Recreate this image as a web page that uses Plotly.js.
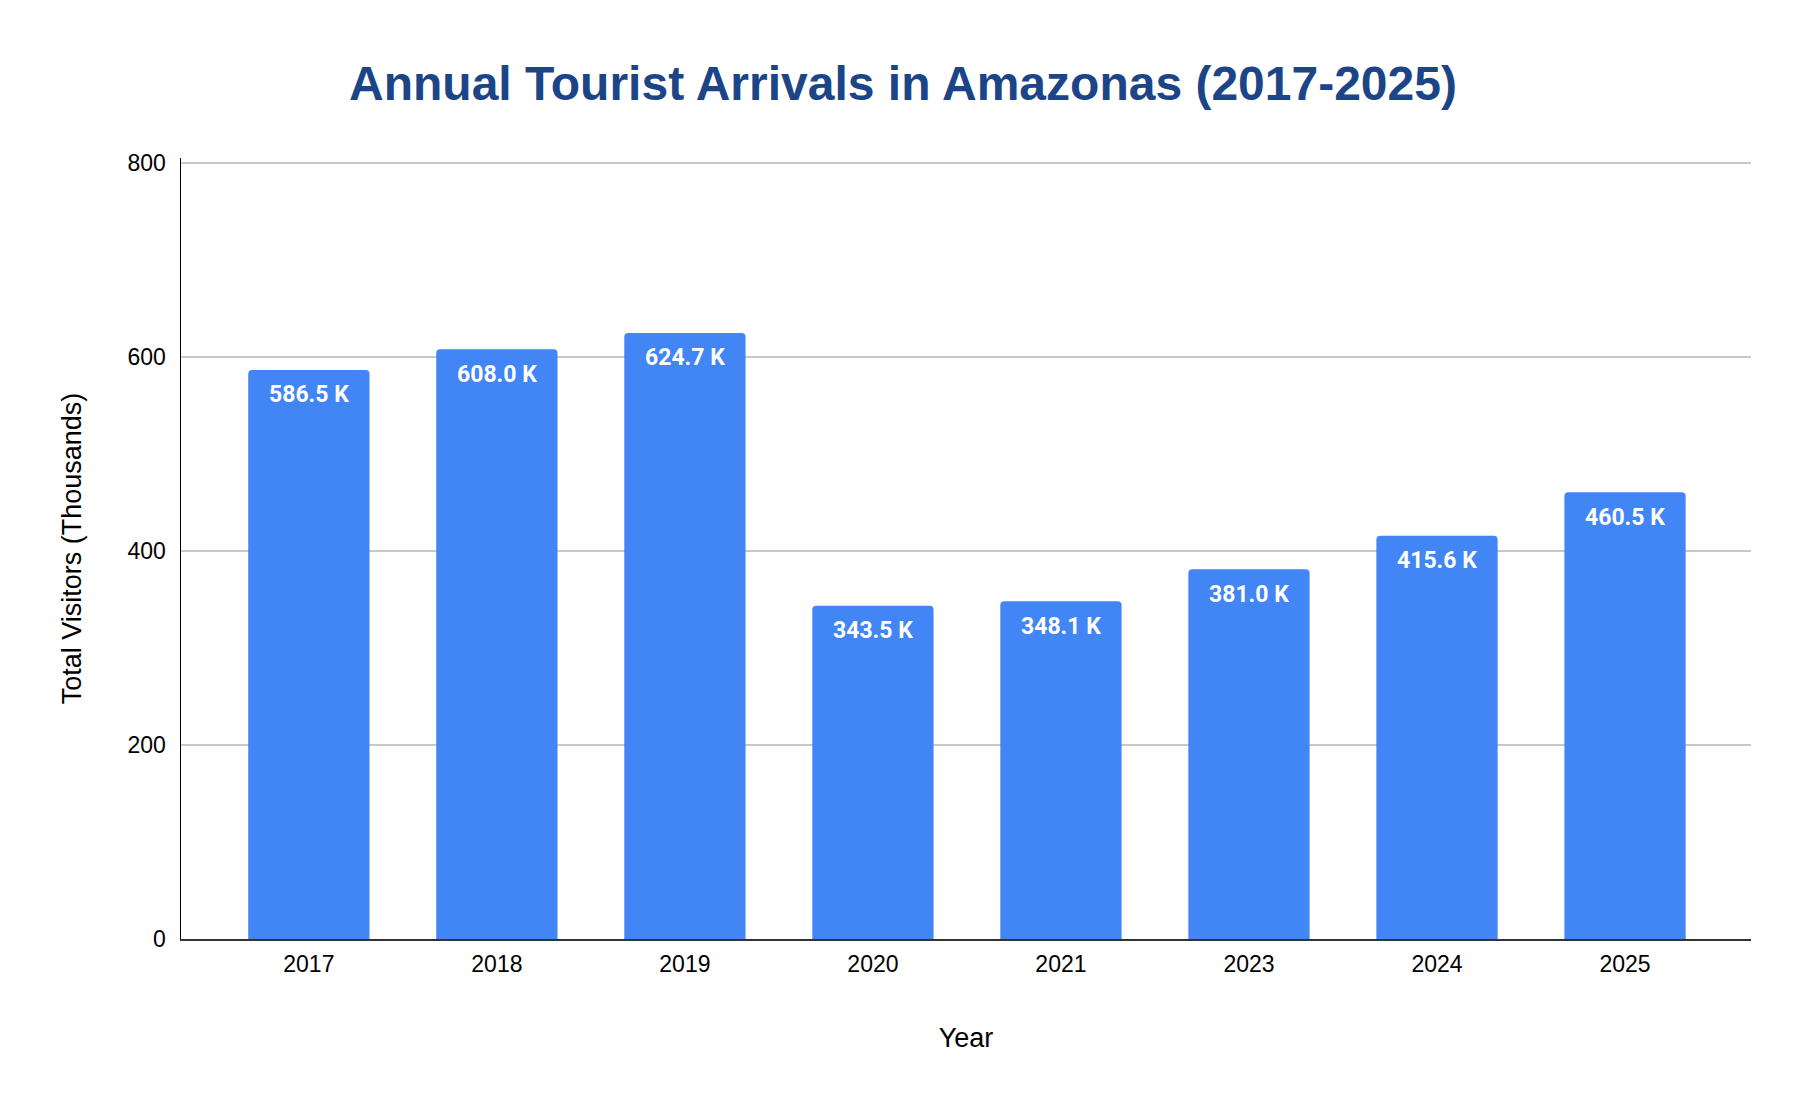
<!DOCTYPE html>
<html>
<head>
<meta charset="utf-8">
<script src="https://cdn.plot.ly/plotly-3.0.1.min.js"></script>
<style>
  html, body { margin: 0; padding: 0; background: #fff; }
  #myDiv { width: 1806px; height: 1108px; }
</style>
</head>
<body>
<div id="myDiv"></div>
<script>
// visitors in thousands
var years = ['2017', '2018', '2019', '2020', '2021', '2023', '2024', '2025']
var visitors = [586.5, 608.0, 624.7, 343.5, 348.1, 381.0, 415.6, 460.5]
var yTicks = [0, 200, 400, 600, 800]

var trace1 = {
  x: years,
  y: visitors,
  type: 'bar',
  width: 0.645,
  marker: { color: '#4285f4', cornerradius: 4 },
  hoverinfo: 'x+y'
};

// value labels sit just under the top of each bar
// (category axis: annotation x is the category index)
var labels = years.map(function (yr, i) {
  return {
    x: i,
    y: visitors[i],
    xref: 'x',
    yref: 'y',
    text: visitors[i].toFixed(1) + ' K',
    showarrow: false,
    yanchor: 'middle',
    yshift: -25,
    font: { family: 'Roboto, sans-serif', size: 23, color: '#ffffff', weight: 700 }
  }
})

var layout = {
  width: 1806,
  height: 1108,
  margin: { l: 181, r: 55, t: 158, b: 169 },
  paper_bgcolor: '#ffffff',
  plot_bgcolor: '#ffffff',
  showlegend: false,
  title: {
    text: '<b>Annual Tourist Arrivals in Amazonas (2017-2025)</b>',
    font: { family: '"Liberation Sans", Arial, sans-serif', size: 48, color: '#1c4587' },
    x: 0.5,
    xanchor: 'center',
    y: 0.925,
    yanchor: 'middle'
  },
  xaxis: {
    type: 'category',
    range: [-0.68, 7.67],
    showgrid: false,
    showline: true,
    linecolor: '#333333',
    linewidth: 1.5,
    ticks: '',
    ticklabelstandoff: 4,
    tickfont: { family: '"Liberation Sans", Arial, sans-serif', size: 23, color: '#000000' },
    title: {
      text: 'Year',
      standoff: 52,
      font: { family: '"Liberation Sans", Arial, sans-serif', size: 27, color: '#000000' }
    },
    automargin: false
  },
  yaxis: {
    range: [0, 805],
    tickvals: yTicks,
    showgrid: true,
    gridcolor: '#c8c8c8',
    gridwidth: 1.5,
    zeroline: false,
    showline: true,
    linecolor: '#000000',
    linewidth: 1.5,
    ticks: '',
    ticklabelstandoff: 9,
    tickfont: { family: '"Liberation Sans", Arial, sans-serif', size: 23, color: '#000000' },
    title: {
      text: 'Total Visitors (Thousands)',
      standoff: 38,
      font: { family: '"Liberation Sans", Arial, sans-serif', size: 27, color: '#000000' }
    },
    automargin: false
  },
  annotations: labels
};

Plotly.newPlot('myDiv', [trace1], layout, { displayModeBar: false, staticPlot: true });
</script>
</body>
</html>
